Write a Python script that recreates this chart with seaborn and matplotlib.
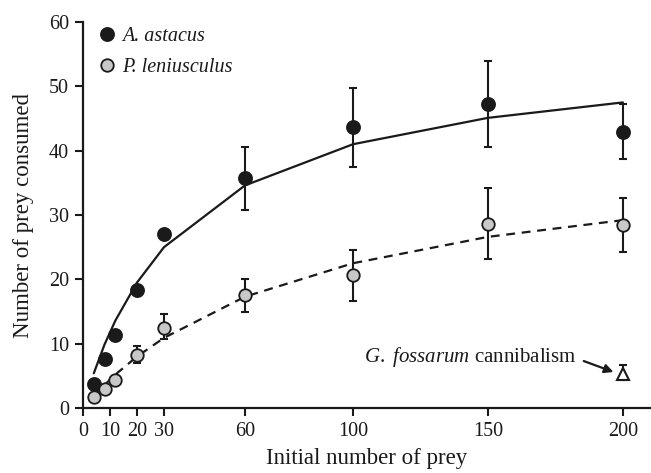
import matplotlib
matplotlib.use("Agg")
import matplotlib.pyplot as plt
import seaborn as sns
import numpy as np
import pandas as pd

sns.set_style("ticks")
plt.rcParams['font.family'] = ['Liberation Serif', 'DejaVu Serif']
plt.rcParams['mathtext.fontset'] = 'custom'
plt.rcParams['mathtext.it'] = 'Liberation Serif:italic'
plt.rcParams['mathtext.rm'] = 'Liberation Serif'

prey = [4, 8, 12, 20, 30, 60, 100, 150, 200]
astacus = [3.7, 7.6, 11.3, 18.3, 27.0, 35.7, 43.7, 47.3, 42.9]
astacus_lo = [3.7, 7.6, 11.3, 18.3, 27.0, 30.8, 37.4, 40.5, 38.7]
astacus_hi = [3.7, 7.6, 11.3, 18.3, 27.0, 40.5, 49.8, 54.0, 47.2]
astacus_fit = [5.4, 9.9, 13.6, 19.5, 25.0, 34.6, 41.0, 45.1, 47.5]
leniusculus = [1.7, 3.0, 4.3, 8.2, 12.4, 17.5, 20.6, 28.6, 28.5]
leniusculus_lo = [1.7, 3.0, 4.3, 7.0, 10.7, 15.0, 16.7, 23.2, 24.3]
leniusculus_hi = [1.7, 3.0, 4.3, 9.6, 14.6, 20.1, 24.6, 34.2, 32.7]
leniusculus_fit = [1.9, 3.6, 5.2, 8.0, 10.9, 17.3, 22.5, 26.6, 29.2]
gammarus_x = [200]
gammarus = [5.3]
gammarus_lo = [4.3]
gammarus_hi = [6.7]
xticks = [0, 10, 20, 30, 60, 100, 150, 200]
yticks = [0, 10, 20, 30, 40, 50, 60]

df = pd.DataFrame({"prey": prey, "ast": astacus, "ast_fit": astacus_fit,
                   "len": leniusculus, "len_fit": leniusculus_fit})

fig = plt.figure(figsize=(6.51, 4.73), dpi=100)
ax = fig.add_axes([0.1275, 0.1374, 0.8725, 0.8161])

dark = "#1a1a1a"
sns.lineplot(data=df, x="prey", y="ast_fit", ax=ax, color=dark, lw=1.6, zorder=2)
sns.lineplot(data=df, x="prey", y="len_fit", ax=ax, color=dark, lw=1.6, zorder=2,
             linestyle=(0, (4, 3)))

a = np.array(astacus); l = np.array(leniusculus)
ax.errorbar(prey, a, yerr=[a - np.array(astacus_lo), np.array(astacus_hi) - a],
            fmt='none', ecolor=dark, elinewidth=1.5, capsize=3.2, capthick=1.5, zorder=3)
ax.errorbar(prey, l, yerr=[l - np.array(leniusculus_lo), np.array(leniusculus_hi) - l],
            fmt='none', ecolor=dark, elinewidth=1.5, capsize=3.2, capthick=1.5, zorder=3)
g = np.array(gammarus)
ax.errorbar(gammarus_x, g, yerr=[g - np.array(gammarus_lo), np.array(gammarus_hi) - g],
            fmt='none', ecolor=dark, elinewidth=1.5, capsize=3.2, capthick=1.5, zorder=3)

ax.plot(prey, astacus, 'o', ms=9.5, mfc=dark, mec=dark, mew=1.2, zorder=4,
        label="A. astacus")
ax.plot(prey, leniusculus, 'o', ms=9, mfc="#c8c8c8", mec=dark, mew=1.3, zorder=4,
        label="P. leniusculus")
ax.plot(gammarus_x, gammarus, '^', ms=8, mfc="white", mec=dark, mew=1.5, zorder=4)

ax.text(143.5, 7.9, r"$\it{G.\ fossarum}$ cannibalism", fontsize=15,
        ha='center', va='center', color=dark)
ax.annotate("", xy=(196.5, 5.6), xytext=(185.5, 7.3),
            arrowprops=dict(arrowstyle="-|>", color=dark, lw=1.6,
                            shrinkA=0, shrinkB=0, mutation_scale=13))

ax.set_xlim(0, 210.4)
ax.set_ylim(0, 60)
ax.set_xticks(xticks)
ax.set_yticks(yticks)
ax.tick_params(labelsize=14.5, width=1.5, length=6, color=dark, labelcolor=dark,
               pad=4)
for s in ['top', 'right']:
    ax.spines[s].set_visible(False)
for s in ['left', 'bottom']:
    ax.spines[s].set_linewidth(1.6)
    ax.spines[s].set_color(dark)
ax.set_xlabel("Initial number of prey", fontsize=16.5, color=dark, labelpad=5)
ax.set_ylabel("Number of prey consumed", fontsize=16.5, color=dark, labelpad=11)

leg = ax.legend(loc='upper left', bbox_to_anchor=(-0.018, 1.035), frameon=False,
                prop={'family': 'Liberation Serif', 'style': 'italic', 'size': 14.5},
                handletextpad=-0.05, labelspacing=0.6, handlelength=1.6)
for t in leg.get_texts():
    t.set_color(dark)

fig.savefig("out.png", dpi=100)
